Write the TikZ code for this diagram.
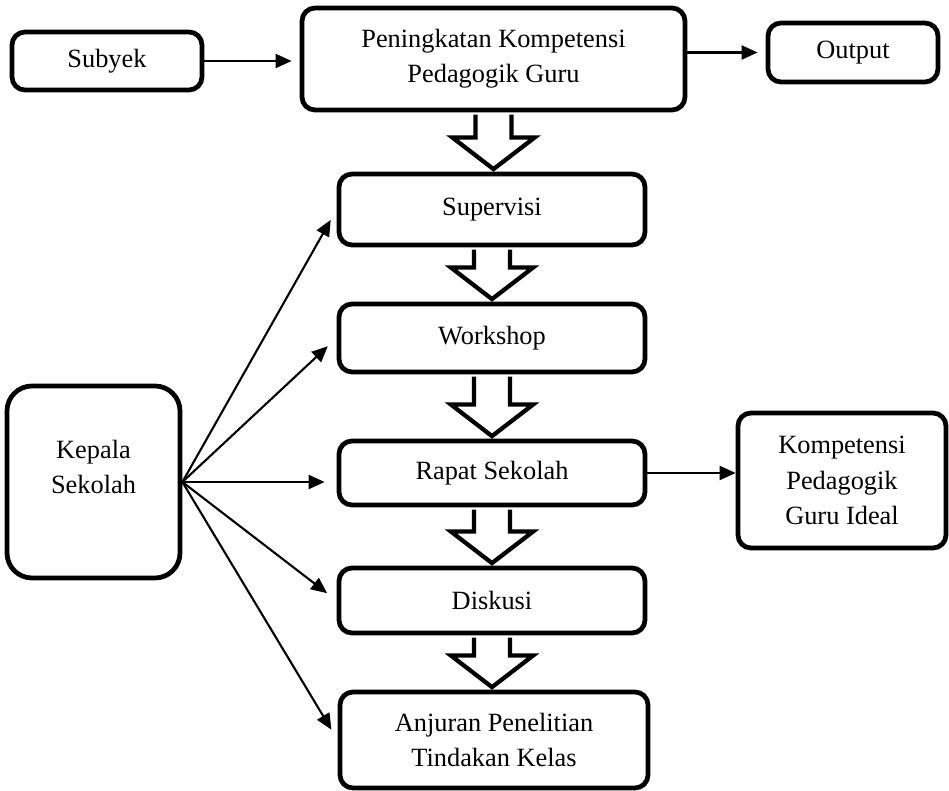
\documentclass[tikz,border=0pt]{standalone}
\usepackage{fontspec}
\setmainfont{Liberation Serif}
\usetikzlibrary{calc,arrows.meta}
\tikzset{
  txt/.style={align=center, font=\fontsize{15}{20}\selectfont},
  box/.style={txt, draw, line width=0.95mm, rounded corners=2.6mm, inner sep=0pt},
  line/.style={line width=0.42mm, -{Triangle[length=3.2mm,width=2.8mm]}},
  hollow/.style={draw, fill=white, line width=0.85mm, line join=miter},
}
\newcommand*{\FlowBox}[5]{% #1 = name, #2 = x,y centre, #3 = width, #4 = height, #5 = text
  \node [box, minimum width=#3, minimum height=#4] (#1) at (#2) {#5};
}
\newcommand*{\HollowArrow}[2]{% #1 = upper node, #2 = lower node
  \path [hollow] let \p1 = (#1.south), \p2 = (#2.north) in
    (\x1-3.6mm,\y1-0.45mm) -- (\x1-3.6mm,\y2+6.8mm) -- (\x1-8.2mm,\y2+6.8mm)
    -- (\x1,\y2+0.5mm) -- (\x1+8.2mm,\y2+6.8mm) -- (\x1+3.6mm,\y2+6.8mm)
    -- (\x1+3.6mm,\y1-0.45mm);
}

\begin{document}
\begin{tikzpicture}[x=0.2mm, y=-0.2mm]
  \useasboundingbox (0,0) rectangle (949,791);
  \FlowBox{subyek}{107,61}{38mm}{11.6mm}{Subyek}
  \FlowBox{tujuan}{493.5,59}{76.6mm}{20.4mm}{Peningkatan Kompetensi\\Pedagogik Guru}
  \FlowBox{output}{853,52.5}{34mm}{11.8mm}{Output}
  \FlowBox{supervisi}{492,209.5}{61.2mm}{14.2mm}{Supervisi}
  \FlowBox{workshop}{492,338}{61.2mm}{13.6mm}{Workshop}
  \FlowBox{rapat}{492,473}{61.2mm}{12.8mm}{Rapat Sekolah}
  \FlowBox{diskusi}{492,600.5}{61.2mm}{13mm}{Diskusi}
  \FlowBox{anjuran}{494,740}{61.6mm}{19.2mm}{Anjuran Penelitian\\Tindakan Kelas}
  \FlowBox{ideal}{842,480.5}{41.6mm}{27mm}{Kompetensi\\Pedagogik\\Guru Ideal}
  \node [box, rounded corners=5mm, minimum width=34.6mm, minimum height=38.4mm]
    (kepsek) at (93.5,482) {};
  \node [txt] (kepsektext) at ([yshift=3mm]kepsek.center) {Kepala\\Sekolah};
  % connectors
  \draw [line, shorten >=1.6mm] (subyek.east) -- (subyek.east -| tujuan.west);
  \draw [line, shorten >=1.6mm] (tujuan.east |- output.west) -- (output.west);
  \draw [line] (rapat.east) -- (rapat.east -| ideal.west);
  \foreach \t in {supervisi, workshop, diskusi, anjuran}
    \draw [line, shorten >=2.4mm] (kepsek.east) -- (\t.west);
  \draw [line, shorten >=2.4mm] (kepsek.east) -- (kepsek.east -| rapat.west);
  % block arrows down the middle
  \foreach \a/\b in {tujuan/supervisi, supervisi/workshop, workshop/rapat,
                     rapat/diskusi, diskusi/anjuran}
    {\HollowArrow{\a}{\b}}
\end{tikzpicture}
\end{document}
